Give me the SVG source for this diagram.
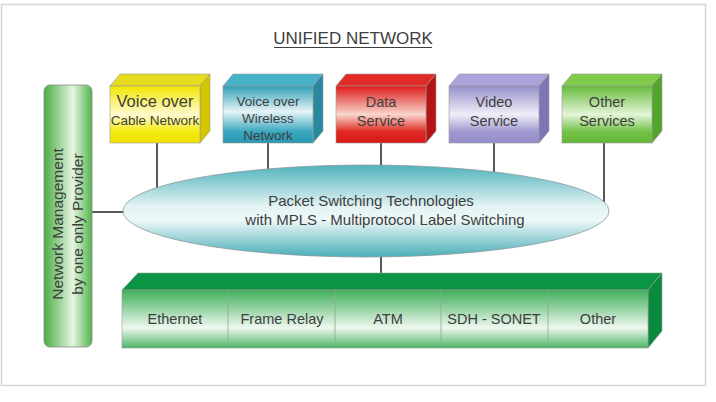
<svg xmlns="http://www.w3.org/2000/svg" width="716" height="402" viewBox="0 0 716 402">
<style>
  text { font-family: "Liberation Sans", Arial, sans-serif; fill: #3e3e3e; text-anchor: middle; }
  .lbl { font-size: 14.5px; }
  .conn { stroke: #222; stroke-width: 1.5; fill: none; }
  .edge { stroke: #9a9a9a; stroke-width: 0.6; }
</style>
<defs>
  <linearGradient id="gY" x1="0" y1="0" x2="0" y2="1"><stop offset="0" stop-color="#f2e600"/><stop offset="0.5" stop-color="#fffbd0"/><stop offset="0.8" stop-color="#f5ea10"/><stop offset="1" stop-color="#efe200"/></linearGradient>
  <linearGradient id="gB" x1="0" y1="0" x2="0" y2="1"><stop offset="0" stop-color="#2f9fb8"/><stop offset="0.45" stop-color="#e6f4f6"/><stop offset="0.8" stop-color="#3aa8c0"/><stop offset="1" stop-color="#2a98b0"/></linearGradient>
  <linearGradient id="gR" x1="0" y1="0" x2="0" y2="1"><stop offset="0" stop-color="#de1a1a"/><stop offset="0.5" stop-color="#f9d6cc"/><stop offset="0.8" stop-color="#e02a22"/><stop offset="1" stop-color="#d81818"/></linearGradient>
  <linearGradient id="gP" x1="0" y1="0" x2="0" y2="1"><stop offset="0" stop-color="#958fca"/><stop offset="0.5" stop-color="#f0eef8"/><stop offset="0.8" stop-color="#a09ad0"/><stop offset="1" stop-color="#938cc8"/></linearGradient>
  <linearGradient id="gG" x1="0" y1="0" x2="0" y2="1"><stop offset="0" stop-color="#66bb3a"/><stop offset="0.5" stop-color="#e4f5d8"/><stop offset="0.8" stop-color="#72c248"/><stop offset="1" stop-color="#62b636"/></linearGradient>
  <linearGradient id="gEll" x1="0" y1="0" x2="0" y2="1"><stop offset="0" stop-color="#4fb2bc"/><stop offset="0.45" stop-color="#e4f3f4"/><stop offset="0.6" stop-color="#eef8f8"/><stop offset="1" stop-color="#49aeb8"/></linearGradient>
  <linearGradient id="gMan" x1="0" y1="0" x2="1" y2="0"><stop offset="0" stop-color="#4aad45"/><stop offset="0.6" stop-color="#e6f5e2"/><stop offset="1" stop-color="#52b34c"/></linearGradient>
  <linearGradient id="gBar" x1="0" y1="0" x2="0" y2="1"><stop offset="0" stop-color="#3fae5a"/><stop offset="0.65" stop-color="#eef8ef"/><stop offset="1" stop-color="#4cb565"/></linearGradient>
</defs>
<rect x="1.5" y="4.5" width="704" height="381" fill="#fff" stroke="#d6d6d6" stroke-width="1.5"/>

<g id="title">
  <text x="353" y="44" style="font-size:17px">UNIFIED NETWORK</text>
  <line x1="274" y1="47.5" x2="432" y2="47.5" stroke="#3e3e3e" stroke-width="1.2"/>
</g>

<g id="connectors">
  <line class="conn" x1="157" y1="143" x2="157" y2="211"/>
  <line class="conn" x1="268" y1="143" x2="268" y2="211"/>
  <line class="conn" x1="381" y1="143" x2="381" y2="211"/>
  <line class="conn" x1="494" y1="143" x2="494" y2="211"/>
  <line class="conn" x1="604" y1="143" x2="604" y2="211"/>
  <line class="conn" x1="92" y1="212" x2="140" y2="212"/>
  <line class="conn" x1="381" y1="211" x2="381" y2="274"/>
</g>

<g id="box-cable">
  <polygon points="110,86 120,74 210,74 200,86" fill="#e8dc20" class="edge"/>
  <polygon points="200,86 210,74 210,131 200,143" fill="#d4c600" class="edge"/>
  <rect x="110" y="86" width="90" height="57" fill="url(#gY)" class="edge"/>
  <text x="155" y="107" style="font-size:16.5px">Voice over</text>
  <text x="155" y="125" style="font-size:13.5px">Cable Network</text>
</g>
<g id="box-wireless">
  <polygon points="223,86 233,74 323,74 313,86" fill="#45b2c8" class="edge"/>
  <polygon points="313,86 323,74 323,131 313,143" fill="#2788a0" class="edge"/>
  <rect x="223" y="86" width="90" height="57" fill="url(#gB)" class="edge"/>
  <text x="268" y="106" style="font-size:13.5px">Voice over</text>
  <text x="268" y="123" style="font-size:13.5px">Wireless</text>
  <text x="268" y="140" style="font-size:13.5px">Network</text>
</g>
<g id="box-data">
  <polygon points="336,86 346,74 436,74 426,86" fill="#e22a26" class="edge"/>
  <polygon points="426,86 436,74 436,131 426,143" fill="#b51414" class="edge"/>
  <rect x="336" y="86" width="90" height="57" fill="url(#gR)" class="edge"/>
  <text x="381" y="107" class="lbl">Data</text>
  <text x="381" y="126" class="lbl">Service</text>
</g>
<g id="box-video">
  <polygon points="449,86 459,74 549,74 539,86" fill="#aaa4da" class="edge"/>
  <polygon points="539,86 549,74 549,131 539,143" fill="#7d76b6" class="edge"/>
  <rect x="449" y="86" width="90" height="57" fill="url(#gP)" class="edge"/>
  <text x="494" y="107" class="lbl">Video</text>
  <text x="494" y="126" class="lbl">Service</text>
</g>
<g id="box-other">
  <polygon points="562,86 572,74 662,74 652,86" fill="#80cc4a" class="edge"/>
  <polygon points="652,86 662,74 662,131 652,143" fill="#54a42c" class="edge"/>
  <rect x="562" y="86" width="90" height="57" fill="url(#gG)" class="edge"/>
  <text x="607" y="107" class="lbl">Other</text>
  <text x="607" y="126" class="lbl">Services</text>
</g>

<g id="mpls">
  <ellipse cx="366" cy="211" rx="243" ry="46" fill="url(#gEll)" stroke="#8a9a9c" stroke-width="0.8"/>
  <text x="371" y="206" style="font-size:15px">Packet Switching Technologies</text>
  <text x="385" y="225" style="font-size:15px">with MPLS - Multiprotocol Label Switching</text>
</g>

<g id="management">
  <rect x="44" y="85" width="48" height="262" rx="6" fill="url(#gMan)" stroke="#8a8a8a" stroke-width="0.8"/>
  <g transform="translate(63,224) rotate(-90)">
    <text x="0" y="0" style="font-size:15.5px">Network Management</text>
    <text x="0" y="20" style="font-size:15.5px">by one only Provider</text>
  </g>
</g>

<g id="transport">
  <polygon points="122,290 138,273 662,273 648,290" fill="#0b9444" class="edge"/>
  <polygon points="648,290 662,273 662,331 648,348" fill="#0a8a3e" class="edge"/>
  <rect x="122" y="290" width="526" height="58" fill="url(#gBar)" class="edge"/>
  <g stroke="#8aa890" stroke-width="0.8">
    <line x1="228" y1="290" x2="228" y2="348"/>
    <line x1="335" y1="290" x2="335" y2="348"/>
    <line x1="441" y1="290" x2="441" y2="348"/>
    <line x1="548" y1="290" x2="548" y2="348"/>
  </g>
  <text x="175" y="324" class="lbl">Ethernet</text>
  <text x="282" y="324" class="lbl">Frame Relay</text>
  <text x="388" y="324" class="lbl">ATM</text>
  <text x="494" y="324" class="lbl">SDH - SONET</text>
  <text x="598" y="324" class="lbl">Other</text>
</g>
</svg>
